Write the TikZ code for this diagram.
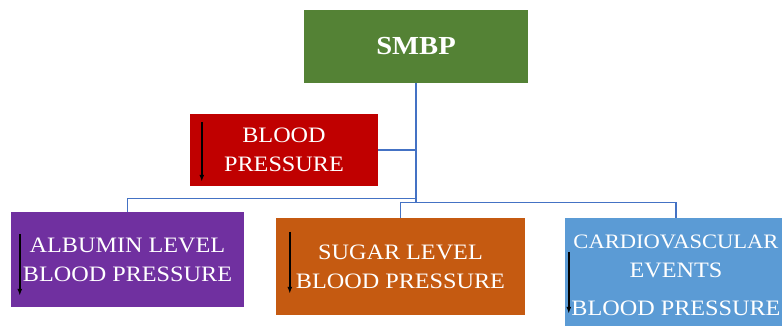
\documentclass[tikz,border=0pt]{standalone}
\usepackage{fontspec}
\setmainfont{Liberation Serif}
\newfontfamily\boxfont[FakeStretch=1.1]{Liberation Serif}
\definecolor{smbpgreen}{HTML}{548235}
\definecolor{bpred}{HTML}{C00000}
\definecolor{albpurple}{HTML}{7030A0}
\definecolor{sugorange}{HTML}{C55A11}
\definecolor{carblue}{HTML}{5B9BD5}
\definecolor{linkblue}{HTML}{4472C4}
\tikzset{
  box/.style={rectangle,inner sep=0pt,text=white,align=center,
    font=\boxfont\fontsize{22}{29}\selectfont},
  link/.style={draw=linkblue,line width=1.2pt},
  down/.style={-{Latex[length=7pt,width=5pt]},line width=1.6pt,black}
}
\usetikzlibrary{arrows.meta}
\begin{document}
\begin{tikzpicture}[x=1pt,y=-1pt]
  \useasboundingbox (0,0) rectangle (782,326);
  % boxes
  \node[box,fill=smbpgreen,minimum width=224pt,minimum height=73pt,
    font=\boxfont\bfseries\fontsize{26}{29}\selectfont] (smbp) at (416,46.5) {SMBP};
  \node[box,fill=bpred,minimum width=188pt,minimum height=72pt] (bp) at (284,150) {BLOOD\\PRESSURE};
  \node[box,fill=albpurple,minimum width=233pt,minimum height=95pt] (alb) at (127.5,259.5) {ALBUMIN LEVEL\\BLOOD PRESSURE};
  \node[box,fill=sugorange,minimum width=249pt,minimum height=97pt] (sug) at (400.5,266.5) {SUGAR LEVEL\\BLOOD PRESSURE};
  \node[box,fill=carblue,minimum width=222pt,minimum height=115pt] (car) at (676,275.5)
    {\fontsize{20.5}{20}\selectfont CARDIOVASCULAR\\EVENTS\\[9pt]\fontsize{22}{29}\selectfont BLOOD PRESSURE};

  % connectors
  \draw[link] (smbp.south) -- ++(0,120);
  \draw[link] (smbp.south) -- ++(0,115) -| (alb.north);
  \draw[link] (sug.north) -- ++(0,-15) -| (car.north);
  \draw[link] (bp.east) -- (bp.east -| smbp.south);

  % arrows in the boxes
  \draw[down] ([xshift=12pt,yshift=-8pt]bp.north west) -- ++(0,60);
  \draw[down] ([xshift=9pt,yshift=-22pt]alb.north west) -- ++(0,62);
  \draw[down] ([xshift=14pt,yshift=-14pt]sug.north west) -- ++(0,62);
  \draw[down] ([xshift=4pt,yshift=-34pt]car.north west) -- ++(0,62);
\end{tikzpicture}
\end{document}
